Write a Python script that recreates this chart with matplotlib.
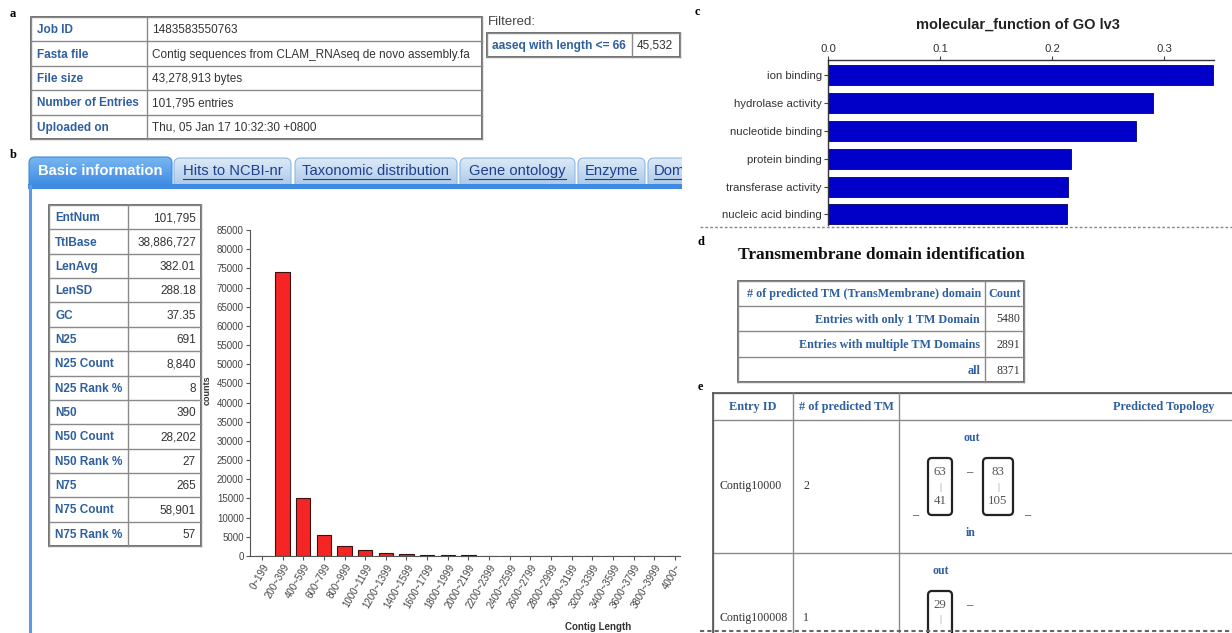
import matplotlib
matplotlib.use("Agg")
import matplotlib.pyplot as plt
import numpy as np
from matplotlib.patches import Rectangle, FancyBboxPatch
from matplotlib.colors import LinearSegmentedColormap

W, H = 1232, 633
SANS = ["Liberation Sans", "DejaVu Sans"]
SERIF = ["Liberation Serif", "DejaVu Serif"]
LINK = "#2f5f9e"
TXT = "#333333"
EDGE = "#8a8a8a"

# ---------- data ----------
info_labels = ["Job ID", "Fasta file", "File size", "Number of Entries", "Uploaded on"]
info_values = ["1483583550763",
               "Contig sequences from CLAM_RNAseq de novo assembly.fa",
               "43,278,913 bytes", "101,795 entries",
               "Thu, 05 Jan 17 10:32:30 +0800"]
filter_label = "aaseq with length <= 66"
filter_value = "45,532"

tab_names = ["Basic information", "Hits to NCBI-nr", "Taxonomic distribution",
             "Gene ontology", "Enzyme", "Domain"]

stat_labels = ["EntNum", "TtlBase", "LenAvg", "LenSD", "GC", "N25", "N25 Count",
               "N25 Rank %", "N50", "N50 Count", "N50 Rank %", "N75",
               "N75 Count", "N75 Rank %"]
stat_values = ["101,795", "38,886,727", "382.01", "288.18", "37.35", "691",
               "8,840", "8", "390", "28,202", "27", "265", "58,901", "57"]

hist_bins = ["0~199", "200~399", "400~599", "600~799", "800~999", "1000~1199",
             "1200~1399", "1400~1599", "1600~1799", "1800~1999", "2000~2199",
             "2200~2399", "2400~2599", "2600~2799", "2800~2999", "3000~3199",
             "3200~3399", "3400~3599", "3600~3799", "3800~3999", "4000~"]
hist_counts = [0, 74000, 15000, 5600, 2700, 1500, 800, 550, 300, 300, 300,
               0, 0, 0, 0, 0, 0, 0, 0, 0, 0]

go_terms = ["ion binding", "hydrolase activity", "nucleotide binding",
            "protein binding", "transferase activity", "nucleic acid binding"]
go_values = [0.3435, 0.290, 0.275, 0.217, 0.214, 0.213]

tm_header = ["# of predicted TM (TransMembrane) domain", "Count"]
tm_labels = ["Entries with only 1 TM Domain", "Entries with multiple TM Domains", "all"]
tm_counts = [5480, 2891, 8371]

topo_header = ["Entry ID", "# of predicted TM", "Predicted Topology"]
topo_ids = ["Contig10000", "Contig100008"]
topo_ntm = [2, 1]
topo_segments = [[(63, 41), (83, 105)], [(29, None)]]

# ---------- canvas ----------
fig = plt.figure(figsize=(W / 100, H / 100), dpi=100)
bg = fig.add_axes([0, 0, 1, 1])
bg.set_xlim(0, W)
bg.set_ylim(H, 0)
bg.axis("off")


def px_axes(x0, y0, x1, y1):
    return fig.add_axes([x0 / W, 1 - y1 / H, (x1 - x0) / W, (y1 - y0) / H])


def grid(xs, ys, color=EDGE, lw=1.0, outer="#555555"):
    for y in ys:
        bg.plot([xs[0], xs[-1]], [y, y], color=color, lw=lw)
    for x in xs:
        bg.plot([x, x], [ys[0], ys[-1]], color=color, lw=lw)
    bg.add_patch(Rectangle((xs[0], ys[0]), xs[-1] - xs[0], ys[-1] - ys[0],
                           fill=False, ec=outer, lw=1.2))


def letter(x, y, s):
    bg.text(x, y, s, family=SERIF, weight="bold", fontsize=9, ha="left", va="center")


# ---------- a ----------
letter(10, 14, "a")
ys = np.linspace(17, 139, len(info_labels) + 1)
grid([31, 147, 482], ys)
for i, (lab, val) in enumerate(zip(info_labels, info_values)):
    yc = (ys[i] + ys[i + 1]) / 2 + 1
    bg.text(37, yc, lab, family=SANS, fontsize=8.5, color=LINK, weight="bold",
            va="center")
    bg.text(152, yc, val, family=SANS, fontsize=8.5, color=TXT, va="center")

bg.text(488, 22, "Filtered:", family=SANS, fontsize=9.5, color="#444444", va="center")
grid([487, 632, 680], [33, 57])
bg.text(492, 46, filter_label, family=SANS, fontsize=8.6, color=LINK, weight="bold",
        va="center")
bg.text(637, 46, filter_value, family=SANS, fontsize=8.5, color=TXT, va="center")

# ---------- b: tabs ----------
letter(10, 155, "b")
tab_x = [(29, 172), (174, 291), (295, 457), (460, 575), (578, 645), (648, 720)]
tab_texts = []
for i, (name, (x0, x1)) in enumerate(zip(tab_names, tab_x)):
    active = i == 0
    top = 157 if active else 158
    patch = FancyBboxPatch((x0, top), x1 - x0, 198 - top,
                           boxstyle="round,pad=0,rounding_size=6",
                           fc="none", ec="#3d8be6" if active else "#8fb8e2",
                           lw=0.8, zorder=1.2)
    bg.add_patch(patch)
    colors = ["#78b6f0", "#3a88e4"] if active else ["#dceaf8", "#a8c6e6"]
    cmap = LinearSegmentedColormap.from_list(f"tab{i}", colors)
    grad = np.linspace(0, 1, 50)[:, None]
    im = bg.imshow(grad, cmap=cmap, extent=[x0, x1, 188, top], aspect="auto",
                   zorder=1)
    im.set_clip_path(patch)
    xt = (x0 + x1) / 2 if i < 5 else x0 + 6
    t = bg.text(xt, 171, name, family=SANS, fontsize=10.6,
                ha="center" if i < 5 else "left", va="center",
                color="white" if active else "#1e3f8c",
                weight="bold" if active else "normal", zorder=3)
    tab_texts.append(t)
bg.set_xlim(0, W)
bg.set_ylim(H, 0)
# hide tab bottoms and the part of the last tab beyond the panel
bg.add_patch(Rectangle((20, 188.5), 700, 15, fc="white", ec="none", zorder=1.5))
bg.add_patch(Rectangle((682, 140), 50, 60, fc="white", ec="none", zorder=4))
bg.add_patch(Rectangle((28, 184), 654, 4.5, fc="#3f8ae2", ec="none", zorder=2))
bg.plot([30, 30], [186, H], color="#5d9ae3", lw=2.2, zorder=3)

fig.canvas.draw()
inv = bg.transData.inverted()
for i, t in enumerate(tab_texts[1:], start=1):
    bb = t.get_window_extent()
    (xa, _), (xb, _) = inv.transform([(bb.x0, bb.y0), (bb.x1, bb.y0)])
    bg.plot([xa, min(xb, 682)], [178.5, 178.5], color="#1e3f8c", lw=0.8, zorder=3)

# ---------- b: stats table ----------
ys = np.linspace(205, 546, len(stat_labels) + 1)
grid([49, 128, 201], ys)
for i, (lab, val) in enumerate(zip(stat_labels, stat_values)):
    yc = (ys[i] + ys[i + 1]) / 2 + 1
    bg.text(55, yc, lab, family=SANS, fontsize=8.5, color=LINK, weight="bold",
            va="center")
    bg.text(196, yc, val, family=SANS, fontsize=8.5, color=TXT, ha="right",
            va="center")

# ---------- b: histogram ----------
ax = px_axes(250, 230, 680, 556)
x = np.arange(len(hist_bins))
ax.bar(x, hist_counts, width=0.7, color="#f52525", edgecolor="#3a1010", lw=0.8)
ax.set_xlim(-0.58, len(hist_bins) - 1 + 0.25)
ax.set_ylim(0, 85000)
ax.set_yticks(np.arange(0, 85001, 5000))
ax.set_xticks(x)
ax.set_xticklabels(hist_bins, rotation=60, ha="right", rotation_mode="anchor")
for lab in ax.get_xticklabels() + ax.get_yticklabels():
    lab.set_family(SANS)
    lab.set_fontsize(7)
    lab.set_color("#444444")
ax.tick_params(length=3, width=0.8, color="#555555", pad=1.5)
for s in ("top", "right"):
    ax.spines[s].set_visible(False)
for s in ("left", "bottom"):
    ax.spines[s].set_color("#555555")
    ax.spines[s].set_linewidth(0.8)
ax.patch.set_alpha(0)
bg.text(207, 390, "counts", family=SANS, fontsize=6.5, weight="bold", rotation=90,
        ha="center", va="center", color="#333333")
bg.text(598, 627, "Contig Length", family=SANS, fontsize=7, weight="bold",
        ha="center", va="center", color="#333333")

# ---------- c ----------
letter(695, 12, "c")
bg.text(1018, 25, "molecular_function of GO lv3", family=SANS, fontsize=10.5,
        weight="bold", ha="center", va="center", color="#222222")
cx = px_axes(828, 60, 1214, 225)
yy = np.arange(len(go_terms))
cx.barh(yy, go_values, height=0.72, color="#0000c8", edgecolor="#000066", lw=0.6)
cx.set_ylim(len(go_terms) - 1 + 0.38, -0.54)
cx.set_xlim(0, 0.3445)
cx.set_xticks([0, 0.1, 0.2, 0.3])
cx.set_xticklabels(["0.0", "0.1", "0.2", "0.3"])
cx.xaxis.tick_top()
cx.set_yticks(yy)
cx.set_yticklabels(go_terms)
for lab in cx.get_xticklabels() + cx.get_yticklabels():
    lab.set_family(SANS)
    lab.set_fontsize(8.2)
    lab.set_color("#333333")
cx.tick_params(length=3, width=0.8, color="#444444", pad=1.5)
cx.spines["right"].set_visible(False)
cx.spines["bottom"].set_visible(False)
for s in ("top", "left"):
    cx.spines[s].set_color("#333344")
    cx.spines[s].set_linewidth(1.0)
cx.patch.set_alpha(0)
bg.plot([700, 1232], [227, 227], color="#888888", lw=1.0, ls=(0, (2, 1.5)))

# ---------- d ----------
letter(698, 242, "d")
bg.text(738, 255, "Transmembrane domain identification", family=SERIF,
        fontsize=12.5, weight="bold", ha="left", va="center", color="#111111")
ys = [281, 306, 331, 357, 382]
grid([738, 985, 1024], ys)
bg.text(981, 294, tm_header[0], family=SERIF, fontsize=8.7, weight="bold",
        color=LINK, ha="right", va="center")
bg.text(1004.5, 294, tm_header[1], family=SERIF, fontsize=8.7, weight="bold",
        color=LINK, ha="center", va="center")
for i, (lab, cnt) in enumerate(zip(tm_labels, tm_counts)):
    yc = (ys[i + 1] + ys[i + 2]) / 2 + 1
    bg.text(980, yc, lab, family=SERIF, fontsize=8.7, weight="bold", color=LINK,
            ha="right", va="center")
    bg.text(1020, yc, str(cnt), family=SERIF, fontsize=8.5, color=TXT,
            ha="right", va="center")

# ---------- e ----------
letter(698, 387, "e")
xs = [713, 793, 899, W + 2]
ys = [393, 420, 553, H + 2]
for y in ys[:-1]:
    bg.plot([xs[0], W], [y, y], color=EDGE, lw=1.0)
bg.plot([xs[0], W], [393, 393], color="#555555", lw=1.2)
for xv in xs[:-1]:
    bg.plot([xv, xv], [ys[0], H], color=EDGE, lw=1.0)
bg.plot([713, 713], [393, H], color="#555555", lw=1.2)
bg.text(753, 407, topo_header[0], family=SERIF, fontsize=8.8, weight="bold",
        color=LINK, ha="center", va="center")
bg.text(846, 407, topo_header[1], family=SERIF, fontsize=8.8, weight="bold",
        color=LINK, ha="center", va="center")
bg.text(1113, 407, topo_header[2], family=SERIF, fontsize=8.8, weight="bold",
        color=LINK, ha="left", va="center")

row_mid = [486, 618]
row_top = [420, 553]
box_x = [(928, 952), (983, 1013)]
for r, (eid, ntm, segs) in enumerate(zip(topo_ids, topo_ntm, topo_segments)):
    bg.text(720, row_mid[r], eid, family=SERIF, fontsize=8.6, color=TXT,
            ha="left", va="center")
    bg.text(803, row_mid[r], str(ntm), family=SERIF, fontsize=8.6, color=TXT,
            ha="left", va="center")
    base = row_top[r] + 38
    first_x = box_x[0][0]
    last_x = box_x[len(segs) - 1][1]
    bg.text((first_x + last_x) / 2 + 1, row_top[r] + 18, "out", family=SERIF,
            fontsize=8.5, weight="bold", color=LINK, ha="center", va="center")
    for k, (a, b) in enumerate(segs):
        x0, x1 = box_x[k]
        bg.add_patch(FancyBboxPatch((x0, base), x1 - x0, 57,
                                    boxstyle="round,pad=0,rounding_size=4",
                                    fc="white", ec="#222222", lw=1.6))
        xm = (x0 + x1) / 2
        bg.text(xm, base + 14, str(a), family=SERIF, fontsize=9.3, color="#555555",
                ha="center", va="center")
        bg.text(xm, base + 29, "|", family=SERIF, fontsize=7, color="#888888",
                ha="center", va="center")
        if b is not None:
            bg.text(xm, base + 43, str(b), family=SERIF, fontsize=9.3,
                    color="#555555", ha="center", va="center")
    bg.text(969, base + 14, "–", family=SERIF, fontsize=9, color="#333333",
            ha="center", va="center")
    if len(segs) > 1:
        bg.text(915, base + 57, "–", family=SERIF, fontsize=9, color="#333333",
                ha="center", va="center")
        bg.text(1027, base + 57, "–", family=SERIF, fontsize=9, color="#333333",
                ha="center", va="center")
        bg.text(971, base + 75, "in", family=SERIF, fontsize=8.5, weight="bold",
                color=LINK, ha="center", va="center")
bg.plot([700, 1232], [631, 631], color="#666666", lw=1.5, ls=(0, (2, 1.5)))

bg.set_xlim(0, W)
bg.set_ylim(H, 0)
fig.savefig("out.png", dpi=100)
